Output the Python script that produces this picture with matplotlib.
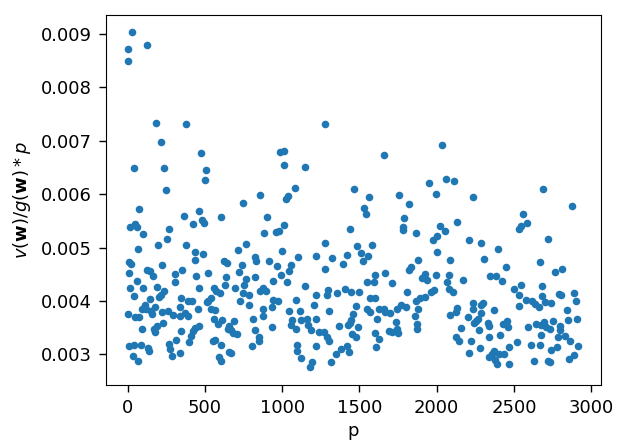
import matplotlib
matplotlib.use("Agg")
import matplotlib.pyplot as plt

# p values (x) and v(w)/g(w)*p values (y), by region
p_a = [28,0,2,125,184,216,41,233,248,74, 13,50,58,102,266,257,199,67,9,22,
       222,125,147,9,166,304,61,306,15,99, 190,237,41,216,205,147,110,93,119,149,
       177,2,48,76,220,259,296,158,227,188, 173,93,179,311,9,39,84,132,140,33,
       67,270,274,287]
v_a = [0.009044,0.008726,0.008495,0.008794,0.007333,0.006977,0.006490,0.006490,0.006084,0.005728,
       0.005391,0.005441,0.005391,0.005254,0.005348,0.005154,0.005042,0.004973,0.004736,0.004692,
       0.004680,0.004586,0.004555,0.004530,0.004467,0.004505,0.004367,0.004355,0.004236,0.004243,
       0.004268,0.004180,0.004099,0.004111,0.004074,0.004036,0.003930,0.003849,0.003849,0.003805,
       0.003880,0.003755,0.003705,0.003705,0.003799,0.003818,0.003743,0.003755,0.003581,0.003537,
       0.003481,0.003481,0.003424,0.003275,0.003162,0.003175,0.003175,0.003112,0.003069,0.002962,
       0.002881,0.003193,0.003100,0.002975]

p_b = [377,472,506,500,746,364,461,426,480,493, 601,377,765,713,433,487,433,623,642,739,
       353,519,720,444,638,763,633,756,461,558, 696,573,597,746,347,390,416,541,523,511,
       728,342,454,539,567,372,390,336,558,610, 687,584,659,649,670,681,707,459,437,422,
       347,407,400,551,567,605,653,670,588,601, 336,785,787]
v_b = [0.007314,0.006771,0.006453,0.006272,0.005835,0.005591,0.005685,0.005441,0.005510,0.005466,
       0.005579,0.005054,0.005067,0.004954,0.004923,0.004886,0.004767,0.004754,0.004717,0.004680,
       0.004580,0.004530,0.004548,0.004473,0.004455,0.004411,0.004305,0.004305,0.004243,0.004243,
       0.004243,0.004180,0.004143,0.004143,0.004055,0.004005,0.004005,0.004055,0.004005,0.003974,
       0.003993,0.003880,0.003849,0.003849,0.003830,0.003768,0.003724,0.003724,0.003662,0.003649,
       0.003630,0.003568,0.003537,0.003474,0.003456,0.003393,0.003381,0.003537,0.003487,0.003443,
       0.003443,0.003337,0.003237,0.003256,0.003268,0.003175,0.003050,0.003019,0.002956,0.002869,
       0.003025,0.004111,0.003924]

p_c = [985,1015,1015,1147,856,1080,1039,1024,905,1009, 882,959,981,1000,1222,1104,914,821,828,964,
       1058,1043,821,994,1033,938,1147,877,856,895, 1218,942,972,1089,1207,877,931,1043,1115,873,
       808,1065,1119,1162,1218,1054,1089,1168,1184,1238, 933,821,847,849,804,1099,1093,1125,1220,1192,
       1179]
v_c = [0.006784,0.006815,0.006547,0.006509,0.005985,0.006122,0.005966,0.005903,0.005579,0.005416,
       0.005279,0.005291,0.005310,0.004942,0.004848,0.004829,0.004742,0.004829,0.004754,0.004648,
       0.004667,0.004567,0.004455,0.004480,0.004361,0.004367,0.004286,0.004243,0.004193,0.004193,
       0.004111,0.004024,0.004005,0.004024,0.003930,0.003855,0.003880,0.003818,0.003818,0.003718,
       0.003662,0.003643,0.003649,0.003655,0.003668,0.003549,0.003474,0.003556,0.003462,0.003424,
       0.003518,0.003456,0.003318,0.003243,0.003150,0.003169,0.003056,0.002925,0.003156,0.002862,
       0.002769]

p_d = [1274,1656,1464,1561,1529,1540,1438,1274,1483,1581, 1322,1419,1509,1553,1522,1393,1276,1663,1602,1591,
       1548,1710,1296,1289,1354,1404,1447,1496,1566,1598, 1477,1548,1570,1628,1656,1667,1699,1300,1458,1447,
       1613,1438,1423,1365,1490,1272,1289,1302,1455,1477, 1602,1624,1688,1710,1380,1419,1430,1350,1317,1604]
v_d = [0.007314,0.006734,0.006097,0.005947,0.005747,0.005628,0.005354,0.005092,0.005036,0.005054,
       0.004811,0.004854,0.004892,0.004836,0.004754,0.004698,0.004598,0.004530,0.004492,0.004361,
       0.004361,0.004330,0.004205,0.004117,0.004143,0.004218,0.004161,0.004168,0.004055,0.004055,
       0.003911,0.003843,0.003793,0.003843,0.003849,0.003787,0.003774,0.003805,0.003755,0.003643,
       0.003662,0.003581,0.003549,0.003537,0.003506,0.003424,0.003331,0.003256,0.003381,0.003331,
       0.003393,0.003287,0.003443,0.003412,0.003100,0.003150,0.003050,0.003006,0.002850,0.003131]

p_e = [2032,1947,2057,2111,1993,1755,1818,1786,1779,1783, 1865,2133,2023,2051,1999,1975,1999,2085,1878,1835,
       1822,1921,1993,2079,1904,1939,2064,2172,2079,2107, 1805,1982,1960,1921,1891,1868,1770,1798,1740,1878,
       2133,2126,2083,1857,1734,1740,1749,1870,1870,2154, 2126,2141]
v_e = [0.006927,0.006215,0.006284,0.006253,0.006003,0.005985,0.005822,0.005547,0.005379,0.005329,
       0.005279,0.005479,0.005410,0.005304,0.005223,0.005148,0.004917,0.004767,0.004767,0.004630,
       0.004580,0.004505,0.004492,0.004492,0.004423,0.004398,0.004361,0.004398,0.004224,0.004161,
       0.004174,0.004211,0.004161,0.004080,0.004055,0.003993,0.003930,0.003893,0.003855,0.003849,
       0.003868,0.003787,0.003737,0.003724,0.003599,0.003474,0.003393,0.003568,0.003474,0.003487,
       0.003318,0.003256]

p_f = [2232,2556,2584,2545,2530,2206,2286,2394,2303,2448, 2346,2383,2420,2545,2497,2534,2577,2614,2638,2236,
       2301,2286,2236,2530,2370,2286,2204,2264,2254,2243, 2329,2340,2431,2452,2463,2588,2642,2271,2219,2340,
       2409,2517,2610,2469,2372,2405,2437,2357,2336,2379, 2387,2469,2280,2211,2627]
v_f = [0.005947,0.005628,0.005454,0.005404,0.005348,0.005142,0.005085,0.004973,0.004786,0.004636,
       0.004467,0.004467,0.004367,0.004305,0.004224,0.004117,0.004018,0.004005,0.003943,0.003955,
       0.003968,0.003924,0.003855,0.003905,0.003830,0.003774,0.003705,0.003662,0.003618,0.003581,
       0.003581,0.003537,0.003568,0.003618,0.003506,0.003506,0.003568,0.003456,0.003256,0.003318,
       0.003368,0.003225,0.003175,0.003131,0.003069,0.003006,0.003006,0.003006,0.002956,0.002894,
       0.002819,0.002819,0.003112,0.003019,0.002881]

p_g = [2687,2873,2720,2668,2763,2812,2679,2681,2791,2806, 2886,2903,2702,2741,2664,2843,2692,2752,2847,2905,
       2672,2705,2730,2799,2797,2677,2784,2832,2862,2914, 2666,2778,2741,2888,2856,2720,2730]
v_g = [0.006103,0.005785,0.005160,0.004723,0.004548,0.004592,0.004286,0.004099,0.004130,0.004117,
       0.004143,0.004005,0.003974,0.003955,0.003880,0.003837,0.003599,0.003618,0.003649,0.003655,
       0.003556,0.003518,0.003474,0.003537,0.003456,0.003362,0.003318,0.003350,0.003256,0.003150,
       0.003175,0.003131,0.003081,0.002994,0.002912,0.002881,0.002862]

x_ticks = [0, 500, 1000, 1500, 2000, 2500, 3000]
y_ticks = [0.003, 0.004, 0.005, 0.006, 0.007, 0.008, 0.009]

p_all = []
v_all = []
for ps, vs in [(p_a, v_a), (p_b, v_b), (p_c, v_c), (p_d, v_d), (p_e, v_e), (p_f, v_f), (p_g, v_g)]:
    n = min(len(ps), len(vs))
    p_all += ps[:n]
    v_all += vs[:n]

fig = plt.figure(figsize=(6.4, 4.42), dpi=100)
ax = fig.add_axes([106/640, 57/442, 495/640, 370/442])
ax.scatter(p_all, v_all, s=30, color='#1f77b4', linewidths=0)
ax.set_xlim(-140, 3063)
ax.set_ylim(0.002425, 0.009356)
ax.set_xticks(x_ticks)
ax.set_xticklabels([str(t) for t in x_ticks])
ax.set_yticks(y_ticks)
ax.set_yticklabels(['%.3f' % t for t in y_ticks])
ax.tick_params(labelsize=13, length=5, width=1, pad=5)
ax.set_xlabel('p', fontsize=13, labelpad=4)
ax.set_ylabel(r'$v(\mathbf{w})/g(\mathbf{w}) * p$', fontsize=13, labelpad=6)
fig.savefig('out.png', dpi=100)
